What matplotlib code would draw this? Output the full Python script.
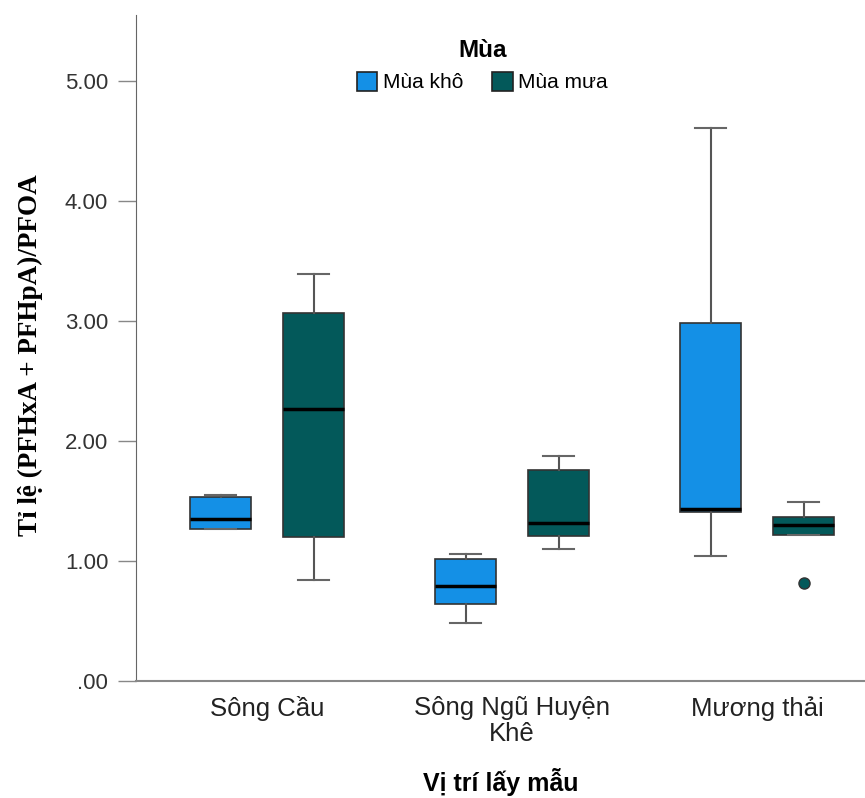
import matplotlib
matplotlib.use("Agg")
import matplotlib.pyplot as plt
from matplotlib.patches import Patch

# ---- data ----
categories = ["Sông Cầu", "Sông Ngũ Huyện\nKhê", "Mương thải"]
seasons = ["Mùa khô", "Mùa mưa"]

dry_whislo = [1.27, 0.48, 1.04]
dry_q1     = [1.27, 0.64, 1.41]
dry_med    = [1.35, 0.79, 1.43]
dry_q3     = [1.53, 1.02, 2.98]
dry_whishi = [1.55, 1.06, 4.61]
dry_fliers = [[], [], []]

wet_whislo = [0.84, 1.10, 1.22]
wet_q1     = [1.20, 1.21, 1.22]
wet_med    = [2.27, 1.32, 1.30]
wet_q3     = [3.07, 1.76, 1.37]
wet_whishi = [3.39, 1.875, 1.49]
wet_fliers = [[], [], [0.82]]

yticks = [0, 1, 2, 3, 4, 5]
ytick_labels = [".00", "1.00", "2.00", "3.00", "4.00", "5.00"]

colors = ["#1490E6", "#03595A"]

fig = plt.figure(figsize=(8.65, 7.98), dpi=100)
ax = fig.add_axes([0.1572, 0.1466, 0.8428, 0.8344])

def stats(lo, q1, med, q3, hi, fl):
    return [dict(whislo=a, q1=b, med=c, q3=d, whishi=e, fliers=f)
            for a, b, c, d, e, f in zip(lo, q1, med, q3, hi, fl)]

offset = 0.19
width = 0.25
series = [
    stats(dry_whislo, dry_q1, dry_med, dry_q3, dry_whishi, dry_fliers),
    stats(wet_whislo, wet_q1, wet_med, wet_q3, wet_whishi, wet_fliers),
]
for i, st in enumerate(series):
    pos = [k + (i - 0.5) * 2 * offset for k in range(len(categories))]
    ax.bxp(st, positions=pos, widths=width, patch_artist=True,
           showfliers=True, manage_ticks=False,
           boxprops=dict(facecolor=colors[i], edgecolor="#333333", linewidth=1.2),
           medianprops=dict(color="black", linewidth=2.5),
           whiskerprops=dict(color="#555555", linewidth=1.5),
           capprops=dict(color="#666666", linewidth=1.5),
           capwidths=width * 0.5,
           flierprops=dict(marker="o", markerfacecolor=colors[i],
                           markeredgecolor="#333333", markersize=8))

ax.set_xlim(-0.535, 2.44)
ax.set_ylim(0, 5.55)
ax.set_xticks(range(len(categories)))
ax.set_xticklabels(categories, fontsize=18.5, family="Liberation Sans",
                   color="#222222", linespacing=1.1)
ax.tick_params(axis="x", length=0, pad=11)
ax.set_yticks(yticks)
ax.set_yticklabels(ytick_labels, fontsize=16, family="Liberation Sans", color="#333333")
ax.tick_params(axis="y", length=13, width=1, color="#888888", pad=7)

for s in ["top", "right"]:
    ax.spines[s].set_visible(False)
ax.spines["left"].set_color("#666666")
ax.spines["bottom"].set_color("#888888")
ax.spines["bottom"].set_linewidth(1.5)

ax.set_ylabel("Tỉ lệ (PFHxA + PFHpA)/PFOA", fontsize=19.5, fontweight="bold",
              family="Liberation Serif")
ax.yaxis.set_label_coords(-0.128, 0.49)
ax.set_xlabel("Vị trí lấy mẫu", fontsize=18, fontweight="bold",
              family="Liberation Sans")
ax.xaxis.set_label_coords(0.5, -0.131)

handles = [Patch(facecolor=colors[i], edgecolor="#222222", linewidth=1.2, label=seasons[i])
           for i in range(2)]
leg = ax.legend(handles=handles, title="Mùa", ncol=2, frameon=False,
                loc="upper center", bbox_to_anchor=(0.475, 0.993),
                prop=dict(family="Liberation Sans", size=15),
                handlelength=1.0, handleheight=1.0, handletextpad=0.25,
                columnspacing=1.4)
leg.get_title().set_fontweight("bold")
leg.get_title().set_fontsize(17.5)
leg.get_title().set_family("Liberation Sans")

fig.savefig("out.png", dpi=100)
